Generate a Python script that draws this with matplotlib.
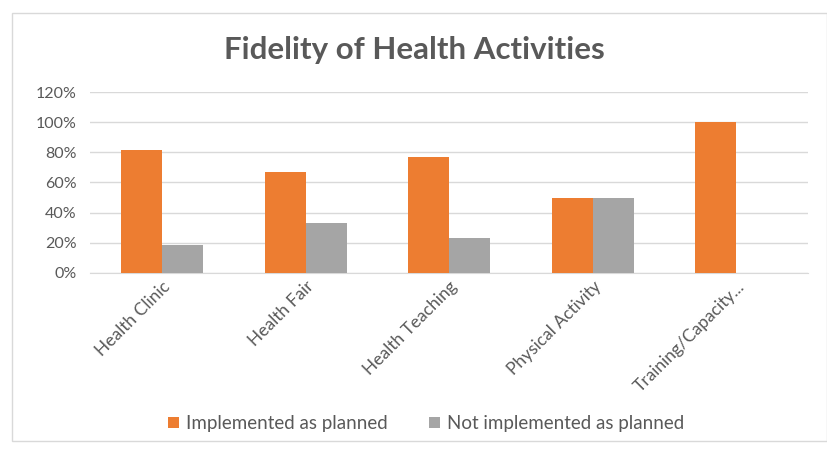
import matplotlib.pyplot as plt
import numpy as np
from matplotlib.patches import Rectangle
from matplotlib.transforms import ScaledTranslation

categories = ["Health Clinic", "Health Fair", "Health Teaching", "Physical Activity", "Training/Capacity..."]
implemented = [81.8, 66.7, 76.9, 50.0, 100.0]
not_implemented = [18.2, 33.3, 23.1, 50.0, 0.0]
yticks = [0, 20, 40, 60, 80, 100, 120]

plt.rcParams['font.family'] = ['Lato', 'DejaVu Sans']
text_col = '#595959'

fig = plt.figure(figsize=(8.28, 4.51), dpi=100)
# light frame around the chart area
fig.patches.append(Rectangle((12 / 828, 10 / 451), 815 / 828, 428 / 451, transform=fig.transFigure,
                             fill=False, edgecolor='#d9d9d9', linewidth=1.0))

ax = fig.add_axes([0.109, 0.395, 0.867, 0.401])
x = np.arange(len(categories))
w = 0.285
ax.bar(x - w / 2, implemented, w, color='#ED7D31', label='Implemented as planned', zorder=3)
ax.bar(x + w / 2, not_implemented, w, color='#A5A5A5', label='Not implemented as planned', zorder=3)

ax.set_xlim(-0.5, len(categories) - 0.5)
ax.set_ylim(0, 120)
ax.set_yticks(yticks)
ax.set_yticklabels([f"{v}%" for v in yticks], color=text_col, fontsize=11.5)
ax.yaxis.grid(True, color='#d9d9d9', linewidth=1, zorder=0)
ax.set_xticks(x)
ax.set_xticklabels(categories, rotation=45, ha='right', rotation_mode='anchor',
                   color=text_col, fontsize=12.5)
shift = ScaledTranslation(-8 / 100, 0, fig.dpi_scale_trans)
for lab in ax.get_xticklabels():
    lab.set_transform(lab.get_transform() + shift)
ax.tick_params(axis='both', length=0)
ax.tick_params(axis='y', pad=10)
ax.tick_params(axis='x', pad=4)
for s in ['top', 'right', 'left']:
    ax.spines[s].set_visible(False)
ax.spines['bottom'].set_color('#d9d9d9')

fig.text(0.5, 0.89, "Fidelity of Health Activities", ha='center', va='center',
         fontsize=22.5, fontweight='bold', color=text_col)

fig.legend(loc='center', bbox_to_anchor=(0.515, 0.06), ncol=2, frameon=False,
           fontsize=13.5, labelcolor=text_col, handlelength=0.55, handleheight=0.55,
           handletextpad=0.4, columnspacing=2.2)

fig.savefig('out.png', dpi=100)
